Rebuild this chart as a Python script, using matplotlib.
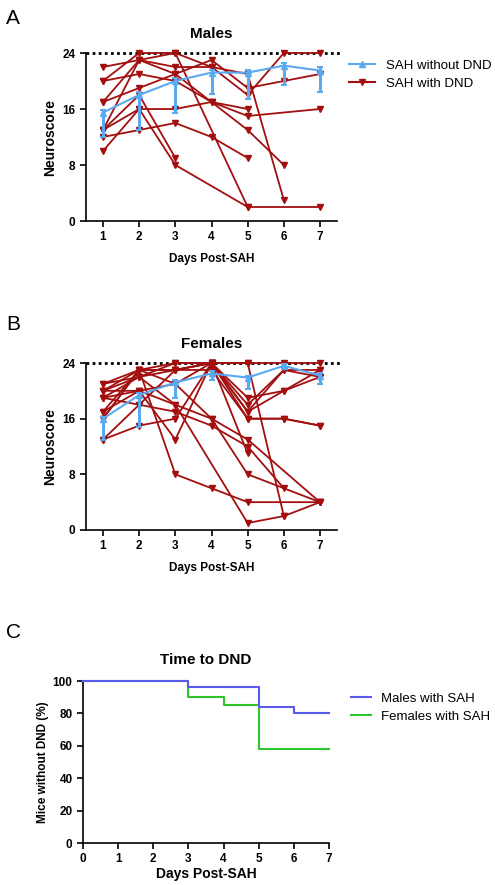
import numpy as np
import matplotlib
matplotlib.use("Agg")
import matplotlib.pyplot as plt

plt.rcParams['font.family'] = ['Liberation Sans', 'DejaVu Sans']

days = [1, 2, 3, 4, 5, 6, 7]
nan = np.nan

# Males - SAH without DND (mean, lower / upper error)
male_ctrl_mean = [15.5, 18.0, 20.0, 21.2, 21.2, 22.2, 21.5]
male_ctrl_lo = [3.5, 5.0, 4.6, 3.0, 3.7, 2.8, 3.0]
male_ctrl_hi = [0.4, 0.4, 0.5, 0.4, 0.4, 0.4, 0.5]

# Males - SAH with DND (individual mice)
male_dnd = [
    [22, 23, 21, 17, 16, nan, nan],
    [20, 24, 24, nan, 2, nan, 2],
    [20, 21, 20, 17, 13, 8, nan],
    [17, 19, 21, 23, 19, 20, 21],
    [17, 23, 22, 22, 18, 24, 24],
    [13, 16, 16, 17, 15, nan, 16],
    [12, 13, 14, 12, 9, nan, nan],
    [10, 16, 8, nan, 2, nan, nan],
    [13, 23, 24, 22, 21, 3, nan],
    [13, 18, 9, nan, nan, nan, nan],
]

# Females - SAH without DND
female_ctrl_mean = [16.0, 19.4, 21.2, 22.5, 21.9, 23.6, 22.2]
female_ctrl_lo = [3.0, 4.6, 2.3, 1.0, 1.6, 0.5, 1.2]
female_ctrl_hi = [0.3, 0.3, 0.3, 0.4, 0.3, 0.3, 0.4]

# Females - SAH with DND
female_dnd = [
    [21, 23, 24, 24, 24, 24, 24],
    [20, 23, 23, 24, 17, 20, 23],
    [20, 22, 23, 23, 16, 16, 15],
    [19, 20, 21, 24, 18, 23, 22],
    [17, 20, 13, 24, 17, 23, 23],
    [13, 15, 16, 24, 19, 20, 22],
    [19, 18, 17, 15, 12, 6, nan],
    [21, 22, 18, 16, 8, nan, 4],
    [16, 23, 8, 6, 4, nan, 4],
    [20, 20, 18, nan, 1, 2, 4],
    [13, 18, 23, 24, 24, 2, nan],
    [17, 23, 21, 16, 13, nan, 4],
    [19, 22, 24, 24, 11, nan, nan],
    [16, 23, 23, 24, 16, 16, 15],
]

# Time to DND (Kaplan-Meier steps)
km_days = [0, 3, 4, 5, 6, 7]
km_males = [100, 96, 96, 84, 80, 80]
km_females = [100, 90, 85, 58, 58, 58]

RED = "#a30f0f"
BLUE = "#5aaaf2"
KM_BLUE = "#5a5af0"
KM_GREEN = "#2ec42e"

fig = plt.figure(figsize=(4.95, 8.85), dpi=100)


def style_axes(ax):
    for s in ["top", "right"]:
        ax.spines[s].set_visible(False)
    for s in ["left", "bottom"]:
        ax.spines[s].set_linewidth(1.2)
    ax.tick_params(width=1.2, length=4, labelsize=8.5, direction="out")
    for lab in ax.get_xticklabels() + ax.get_yticklabels():
        lab.set_fontweight("bold")


def neuro_panel(rect, title, ctrl_mean, ctrl_lo, ctrl_hi, dnd, legend=False):
    ax = fig.add_axes(rect)
    x = np.array(days)
    for mouse in dnd:
        y = np.array(mouse, dtype=float)
        ok = np.isfinite(y)
        ax.plot(x[ok], y[ok], color=RED, lw=1.3, marker="v", ms=4,
                clip_on=False, zorder=2)
    ax.axhline(24, xmin=0, xmax=1.02, color="black", ls=(0, (1, 1.2)),
               lw=2, clip_on=False, zorder=1)
    ax.errorbar(x, ctrl_mean, yerr=[ctrl_lo, ctrl_hi], color=BLUE, lw=1.5,
                elinewidth=2.2, capsize=2.5, capthick=1.5, marker="^",
                ms=4, clip_on=False, zorder=3)
    ax.set_xlim(0.53, 7.47)
    ax.set_ylim(0, 24)
    ax.set_xticks(days)
    ax.set_yticks([0, 8, 16, 24])
    ax.set_title(title, fontsize=11, fontweight="bold", pad=11)
    ax.set_ylabel("Neuroscore", fontsize=10, fontweight="bold", labelpad=4)
    ax.set_xlabel("Days Post-SAH", fontsize=8.5, fontweight="bold", labelpad=7)
    style_axes(ax)
    if legend:
        h1, = ax.plot([], [], color=BLUE, marker="^", ms=4, lw=1.5)
        h2, = ax.plot([], [], color=RED, marker="v", ms=4, lw=1.5)
        ax.legend([h1, h2], ["SAH without DND", "SAH with DND"],
                  loc="upper left", bbox_to_anchor=(1.0, 1.03), frameon=False,
                  fontsize=9.5, handlelength=2.0, labelspacing=0.4)
    return ax


neuro_panel([86 / 495, 1 - 221 / 885, 251 / 495, 168 / 885], "Males",
            male_ctrl_mean, male_ctrl_lo, male_ctrl_hi, male_dnd, legend=True)
neuro_panel([86 / 495, 1 - 530 / 885, 251 / 495, 167 / 885], "Females",
            female_ctrl_mean, female_ctrl_lo, female_ctrl_hi, female_dnd)

# Panel C
axc = fig.add_axes([83 / 495, 1 - 843 / 885, 246 / 495, 162 / 885])
axc.step(km_days, km_males, where="post", color=KM_BLUE, lw=1.5,
         label="Males with SAH", clip_on=False, zorder=3)
axc.step(km_days, km_females, where="post", color=KM_GREEN, lw=1.5,
         label="Females with SAH", clip_on=False, zorder=2)
axc.set_xlim(0, 7)
axc.set_ylim(0, 100)
axc.set_xticks(range(0, 8))
axc.set_yticks(range(0, 101, 20))
axc.set_title("Time to DND", fontsize=11, fontweight="bold", pad=12)
axc.set_ylabel("Mice without DND (%)", fontsize=8.5, fontweight="bold", labelpad=3)
axc.set_xlabel("Days Post-SAH", fontsize=10, fontweight="bold", labelpad=1)
style_axes(axc)
axc.legend(loc="upper left", bbox_to_anchor=(1.04, 1.0), frameon=False,
           fontsize=9.5, handlelength=1.5, labelspacing=0.4)

for letter, ypix in [("A", 18), ("B", 325), ("C", 632)]:
    fig.text(6 / 495, 1 - ypix / 885, letter, fontsize=15, va="center",
             ha="left")

fig.savefig("out.png", dpi=100)
